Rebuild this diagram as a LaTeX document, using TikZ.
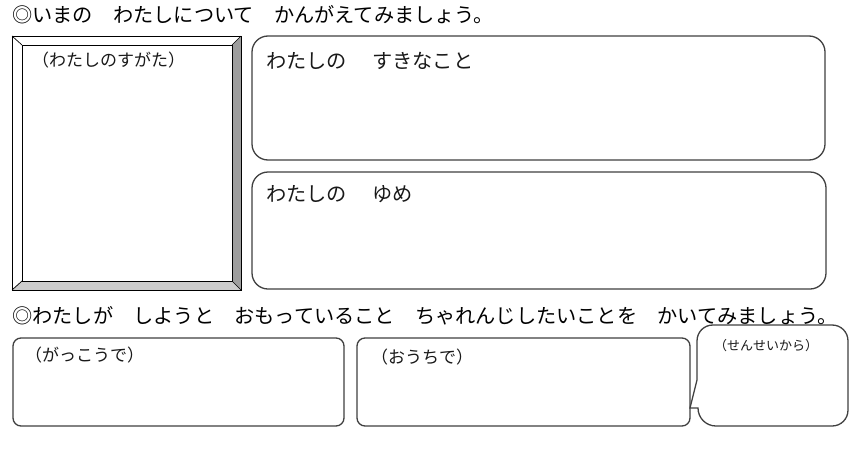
\documentclass[tikz,border=0pt]{standalone}
\usepackage{fontspec}
\setmainfont{Noto Sans CJK JP}
\begin{document}
\begin{tikzpicture}[x=1pt,y=-1pt,
  box/.style={draw=black!75, line width=1.3pt},
  lbl/.style={anchor=west, inner sep=0pt, text=black!90},
  big/.style={font=\fontsize{20.2}{22}\selectfont},
  mid/.style={font=\fontsize{17}{19}\selectfont},
  sml/.style={font=\fontsize{13}{15}\selectfont}]
\useasboundingbox (0,0) rectangle (854,450);
\fill[white] (0,0) rectangle (854,450);
% bevelled frame
\fill[black!38] (241,36) -- (241,290) -- (232,281) -- (232,45) -- cycle;
\fill[black!20] (12,290) -- (241,290) -- (232,281) -- (22,281) -- cycle;
\draw[black, line width=0.9pt] (12,36) rectangle (241,290);
\draw[black, line width=0.9pt] (22,45) rectangle (232,281);
\draw[black, line width=0.7pt] (12,36) -- (22,45) (241,36) -- (232,45)
  (12,290) -- (22,281) (241,290) -- (232,281);
% rounded boxes
\draw[box, rounded corners=16pt] (252,36) rectangle (825,160);
\draw[box, rounded corners=16pt] (252,172) rectangle (826,289);
\draw[box, rounded corners=8pt] (13,338) rectangle (344,426);
\draw[box, rounded corners=8pt] (357,338) rectangle (690,426);
% speech bubble
\draw[box] (690,408) -- (697,380) -- (697,341) .. controls (697,332) and (704,325) .. (713,325)
  -- (832,325) .. controls (841,325) and (848,332) .. (848,341)
  -- (848,410) .. controls (848,419) and (841,426) .. (832,426)
  -- (716,426) .. controls (706,426) and (698,418) .. (698,408) -- cycle;
% texts
\node[lbl, big, text=black] (t1) at (12,15) {◎いまの　わたしについて　かんがえてみましょう。};
\node[lbl, big, text=black] (t2) at (12,316) {◎わたしが　しようと　おもっていること　ちゃれんじしたいことを　かいてみましょう。};
\node[lbl, big] (like) at (266,61) {わたしの\hspace{1.25em}すきなこと};
\node[lbl, big] (dream) at (266,194) {わたしの\hspace{1.25em}ゆめ};
\node[lbl, mid] (me) at (32,60) {（わたしのすがた）};
\node[lbl, mid] (school) at (25,355) {（がっこうで）};
\node[lbl, mid] (home) at (371,357) {（おうちで）};
\node[lbl, sml] (teacher) at (714,346) {（せんせいから）};
\end{tikzpicture}
\end{document}
